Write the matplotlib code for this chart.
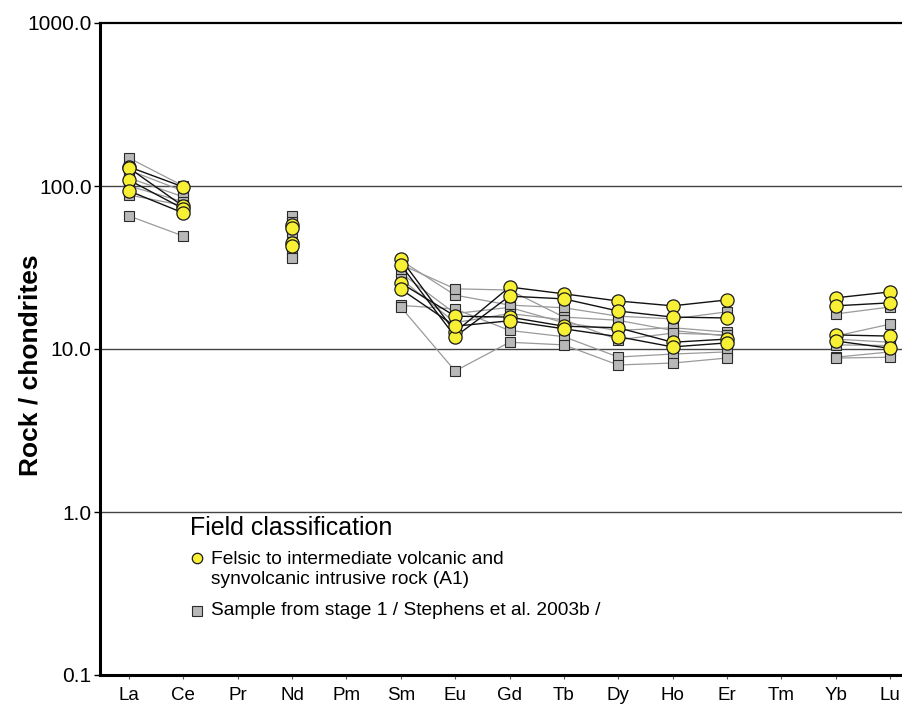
import numpy as np
import matplotlib
matplotlib.use('Agg')
import matplotlib.pyplot as plt
from matplotlib import font_manager

# REE patterns normalised to chondrite
elements = ['La', 'Ce', 'Pr', 'Nd', 'Pm', 'Sm', 'Eu', 'Gd', 'Tb', 'Dy', 'Ho', 'Er', 'Tm', 'Yb', 'Lu']
nan = np.nan

# Felsic to intermediate volcanic and synvolcanic intrusive rock (A1)
a1_samples = [
    [131.0, 98.6, nan, 57.6, nan, 35.7, 12.7, 24.0, 21.8, 19.7, 18.4, 20.0, nan, 20.6, 22.4],
    [129.0, 75.0, nan, 55.3, nan, 32.8, 11.9, 21.1, 20.3, 17.1, 15.7, 15.5, nan, 18.4, 19.2],
    [108.8, 72.5, nan, 44.5, nan, 25.4, 15.9, 15.7, 13.8, 13.5, 11.0, 11.5, nan, 12.2, 12.0],
    [93.2, 68.3, nan, 43.0, nan, 23.3, 13.8, 14.9, 13.3, 11.9, 10.3, 10.9, nan, 11.2, 10.1],
]

# Sample from stage 1 / Stephens et al. 2003b
stage1_samples = [
    [148.5, 100.0, nan, 65.5, nan, 35.0, 21.4, 18.6, 17.9, 15.9, 15.3, 16.9, nan, 16.4, 18.1],
    [125.0, 93.0, nan, 60.0, nan, 33.0, 23.4, 23.0, 15.7, 15.0, 13.0, 12.0, nan, 11.5, 11.0],
    [112.0, 85.7, nan, 52.0, nan, 29.3, 16.5, 18.0, 14.5, 13.0, 13.5, 12.7, nan, 12.0, 14.2],
    [100.0, 80.0, nan, 45.0, nan, 27.0, 14.5, 16.5, 15.1, 11.4, 12.5, 12.2, nan, 10.6, 10.5],
    [88.0, 76.0, nan, 38.0, nan, 18.5, 17.6, 13.0, 11.9, 8.93, 9.31, 9.6, nan, 8.9, 9.6],
    [65.5, 49.3, nan, 36.2, nan, 18.1, 7.33, 11.0, 10.6, 7.98, 8.2, 8.8, nan, 8.8, 8.9],
]

yticks = [0.1, 1, 10, 100, 1000]

names = {f.name for f in font_manager.fontManager.ttflist}
base_font = 'Liberation Sans' if 'Liberation Sans' in names else 'DejaVu Sans'
plt.rcParams['font.family'] = base_font

x = np.arange(1, len(elements) + 1)

fig = plt.figure(figsize=(9.03, 7.08), dpi=100)
ax = fig.add_axes([100 / 903, 33 / 708, 803 / 903, 652 / 708])

for y in [1, 10, 100]:
    ax.axhline(y, color='#444444', lw=1.0, zorder=1)

for s in stage1_samples:
    ax.plot(x, s, '-', color='#9a9a9a', lw=0.9, zorder=2)
    ax.plot(x, s, 's', ms=6.8, mfc='#b8b8b8', mec='#2a2a2a', mew=0.8, zorder=3)

for s in a1_samples:
    ax.plot(x, s, '-', color='#111111', lw=1.0, zorder=4)
    ax.plot(x, s, 'o', ms=9.5, mfc='#f7f035', mec='#1a1a1a', mew=0.9, zorder=5)

ax.set_yscale('log')
ax.set_ylim(0.1, 1000)
ax.set_xlim(0.4665, 15.239)
ax.minorticks_off()
ax.set_yticks(yticks)
ax.set_yticklabels(['%.1f' % v for v in yticks], fontsize=15)
ax.set_xticks(x)
ax.set_xticklabels(elements, fontsize=13.5)
ax.tick_params(axis='y', direction='out', length=4, width=1, pad=2)
ax.tick_params(axis='x', direction='out', length=3, width=0.8, color='#555555', pad=6)

ax.spines['right'].set_visible(False)
ax.spines['left'].set_linewidth(2.2)
ax.spines['bottom'].set_linewidth(2.2)
ax.spines['top'].set_linewidth(1.6)

ax.set_ylabel('Rock / chondrites', fontsize=19, fontweight='bold')
ax.yaxis.set_label_coords(-0.071, 0.475)

# legend block
ax.text(0.112, 0.2255, 'Field classification', transform=ax.transAxes,
        fontsize=18, va='center', ha='left')
ax.plot([0.1208], [0.1794], 'o', ms=7.5, mfc='#f7f035', mec='#1a1a1a', mew=0.9,
        transform=ax.transAxes, clip_on=False)
ax.text(0.1382, 0.1618, 'Felsic to intermediate volcanic and\nsynvolcanic intrusive rock (A1)',
        transform=ax.transAxes, fontsize=13.8, va='center', ha='left', linespacing=1.2)
ax.plot([0.1208], [0.0982], 's', ms=6.5, mfc='#b8b8b8', mec='#2a2a2a', mew=0.8,
        transform=ax.transAxes, clip_on=False)
ax.text(0.1382, 0.0982, 'Sample from stage 1 / Stephens et al. 2003b /',
        transform=ax.transAxes, fontsize=13.8, va='center', ha='left')

fig.savefig('out.png', dpi=100)
